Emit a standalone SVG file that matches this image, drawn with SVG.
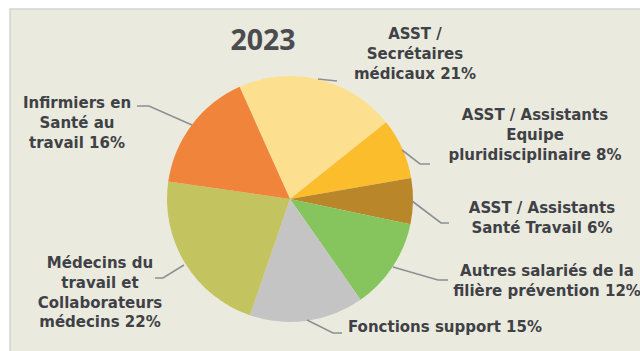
<svg xmlns="http://www.w3.org/2000/svg" width="640" height="351" viewBox="0 0 640 351">
<style>
.lbl{font-family:"DejaVu Sans","Liberation Sans",sans-serif;font-weight:700;font-size:15px;fill:#3E4145;text-anchor:middle}
.lead{fill:none;stroke:#8C9095;stroke-width:1.6}
.sl{stroke:none}
</style>
<rect x="0" y="0" width="640" height="351" fill="#FFFFFF"/>
<rect x="10" y="9" width="640" height="350" fill="#EBEADF" stroke="#D3D3CF" stroke-width="1.5"/>
<text x="263" y="50" style="font-family:'Open Sans','Liberation Sans',sans-serif;font-weight:700;font-size:28.5px;fill:#4A4C4F;text-anchor:middle">2023</text>
<g id="pie">
<path id="s-secr" class="sl" fill="#FDE08F" d="M290,199 L239.58,86.81 A123,123 0 0 1 386.12,122.26 Z"/>
<path id="s-equipe" class="sl" fill="#FBBD2B" d="M290,199 L386.12,122.26 A123,123 0 0 1 411.20,178.06 Z"/>
<path id="s-sante" class="sl" fill="#B9872A" d="M290,199 L411.20,178.06 A123,123 0 0 1 410.40,224.15 Z"/>
<path id="s-autres" class="sl" fill="#86C45E" d="M290,199 L410.40,224.15 A123,123 0 0 1 360.55,299.76 Z"/>
<path id="s-fonctions" class="sl" fill="#C4C4C4" d="M290,199 L360.55,299.76 A123,123 0 0 1 249.95,315.30 Z"/>
<path id="s-medecins" class="sl" fill="#C3C35F" d="M290,199 L249.95,315.30 A123,123 0 0 1 168.26,181.46 Z"/>
<path id="s-infirmiers" class="sl" fill="#F0843A" d="M290,199 L168.26,181.46 A123,123 0 0 1 239.58,86.81 Z"/>
</g>
<g id="connectors">
<path class="lead" d="M137,106 L149,106 L192,125"/>
<path class="lead" d="M318,79 L337,81"/>
<path class="lead" d="M402,150 L420,164 L430,164"/>
<path class="lead" d="M412,201 L441,223 L449,223"/>
<path class="lead" d="M393,267 L438,280 L448,280"/>
<path class="lead" d="M307,320 L333,333 L342,333"/>
<path class="lead" d="M155,278 L163,278 L184,265"/>
</g>
<g id="label-infirmiers">
<text class="lbl" x="77" y="108">Infirmiers en</text>
<text class="lbl" x="77" y="128">Santé au</text>
<text class="lbl" x="77" y="148">travail 16%</text>
</g>
<g id="label-secr">
<text class="lbl" x="415" y="39">ASST /</text>
<text class="lbl" x="415" y="59">Secrétaires</text>
<text class="lbl" x="415" y="79">médicaux 21%</text>
</g>
<g id="label-equipe">
<text class="lbl" x="535" y="120">ASST / Assistants</text>
<text class="lbl" x="535" y="140">Equipe</text>
<text class="lbl" x="535" y="160">pluridisciplinaire 8%</text>
</g>
<g id="label-sante">
<text class="lbl" x="542" y="213">ASST / Assistants</text>
<text class="lbl" x="542" y="233">Santé Travail 6%</text>
</g>
<g id="label-autres">
<text class="lbl" x="547" y="276">Autres salariés de la</text>
<text class="lbl" x="547" y="296">filière prévention 12%</text>
</g>
<g id="label-fonctions">
<text class="lbl" x="445" y="332">Fonctions support 15%</text>
</g>
<g id="label-medecins">
<text class="lbl" x="100" y="268">Médecins du</text>
<text class="lbl" x="100" y="288">travail et</text>
<text class="lbl" x="100" y="308">Collaborateurs</text>
<text class="lbl" x="100" y="327">médecins 22%</text>
</g>
</svg>
